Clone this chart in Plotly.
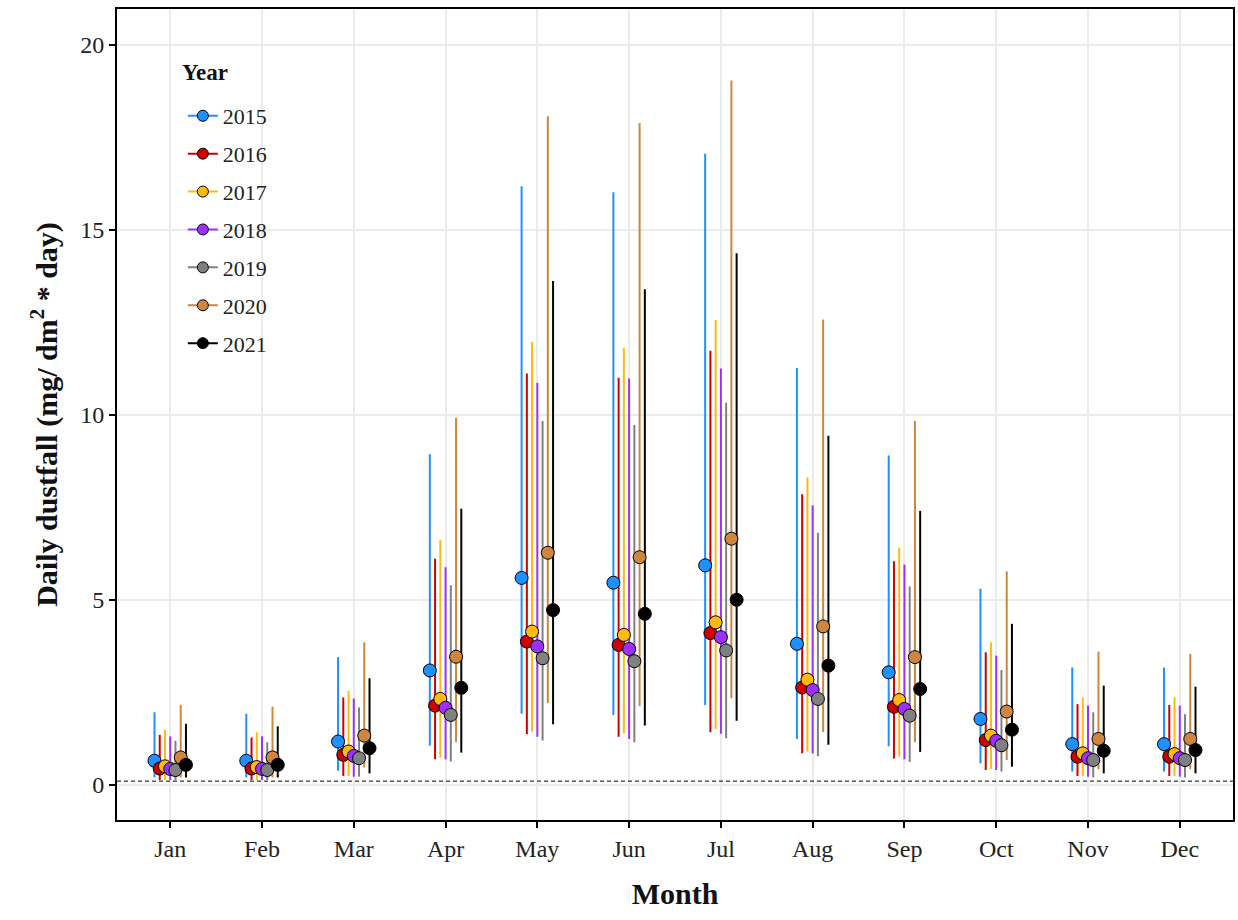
import plotly.graph_objects as go

# Monthly daily dustfall: mean with min–max range for each year
months = ["Jan", "Feb", "Mar", "Apr", "May", "Jun", "Jul", "Aug", "Sep", "Oct", "Nov", "Dec"]
years = ["2015", "2016", "2017", "2018", "2019", "2020", "2021"]
colors = ["#1E90FF", "#CD0000", "#FFB90F", "#9B30FF", "#808080", "#CD853F", "#000000"]

mean_2015 = [0.65, 0.65, 1.17, 3.09, 5.59, 5.46, 5.93, 3.81, 3.04, 1.78, 1.10, 1.10]
low_2015 = [0.20, 0.20, 0.38, 1.06, 1.92, 1.89, 2.16, 1.24, 1.04, 0.58, 0.36, 0.36]
high_2015 = [1.96, 1.92, 3.45, 8.93, 16.17, 16.01, 17.05, 11.26, 8.90, 5.30, 3.17, 3.17]

mean_2016 = [0.44, 0.44, 0.81, 2.14, 3.87, 3.78, 4.10, 2.63, 2.11, 1.21, 0.76, 0.76]
low_2016 = [0.13, 0.13, 0.24, 0.69, 1.37, 1.30, 1.42, 0.85, 0.71, 0.40, 0.24, 0.24]
high_2016 = [1.35, 1.28, 2.36, 6.11, 11.11, 11.00, 11.73, 7.85, 6.04, 3.58, 2.18, 2.16]

mean_2017 = [0.50, 0.48, 0.90, 2.32, 4.14, 4.05, 4.39, 2.84, 2.29, 1.33, 0.85, 0.83]
low_2017 = [0.13, 0.13, 0.24, 0.74, 1.44, 1.40, 1.51, 0.90, 0.76, 0.43, 0.24, 0.24]
high_2017 = [1.49, 1.42, 2.54, 6.62, 11.97, 11.81, 12.56, 8.30, 6.41, 3.85, 2.36, 2.36]

mean_2018 = [0.43, 0.43, 0.78, 2.08, 3.74, 3.67, 3.99, 2.56, 2.05, 1.19, 0.72, 0.72]
low_2018 = [0.13, 0.13, 0.22, 0.69, 1.30, 1.24, 1.38, 0.85, 0.69, 0.40, 0.22, 0.22]
high_2018 = [1.31, 1.31, 2.33, 5.88, 10.86, 10.98, 11.25, 7.55, 5.95, 3.49, 2.14, 2.14]

mean_2019 = [0.40, 0.40, 0.72, 1.89, 3.42, 3.34, 3.63, 2.32, 1.87, 1.07, 0.67, 0.67]
low_2019 = [0.13, 0.13, 0.22, 0.63, 1.20, 1.15, 1.26, 0.77, 0.62, 0.36, 0.20, 0.20]
high_2019 = [1.19, 1.15, 2.09, 5.39, 9.83, 9.72, 10.32, 6.81, 5.36, 3.10, 1.96, 1.91]

mean_2020 = [0.74, 0.74, 1.33, 3.46, 6.27, 6.15, 6.65, 4.28, 3.45, 1.98, 1.24, 1.24]
low_2020 = [0.20, 0.20, 0.47, 1.15, 2.21, 2.12, 2.34, 1.43, 1.15, 0.67, 0.42, 0.42]
high_2020 = [2.16, 2.11, 3.85, 9.92, 18.06, 17.88, 19.03, 12.57, 9.83, 5.77, 3.60, 3.54]

mean_2021 = [0.54, 0.54, 0.99, 2.62, 4.72, 4.62, 5.00, 3.22, 2.59, 1.49, 0.92, 0.94]
low_2021 = [0.20, 0.20, 0.31, 0.87, 1.64, 1.60, 1.73, 1.08, 0.89, 0.49, 0.31, 0.31]
high_2021 = [1.65, 1.58, 2.88, 7.46, 13.61, 13.39, 14.36, 9.43, 7.40, 4.35, 2.68, 2.65]

means = [mean_2015, mean_2016, mean_2017, mean_2018, mean_2019, mean_2020, mean_2021]
lows = [low_2015, low_2016, low_2017, low_2018, low_2019, low_2020, low_2021]
highs = [high_2015, high_2016, high_2017, high_2018, high_2019, high_2020, high_2021]

detection_limit = 0.1
y_ticks = [0, 5, 10, 15, 20]

FONT = "Liberation Serif"
dodge_width = 0.4
n_groups = len(years)
step = dodge_width / n_groups


def dodged_x(group):
    offset = (group - (n_groups - 1) / 2) * step
    return [m + 1 + offset for m in range(len(months))]


fig = go.Figure()

# Ranges first, so that every point sits on top of every line
for g, year in enumerate(years):
    xs, ys = [], []
    for x, lo, hi in zip(dodged_x(g), lows[g], highs[g]):
        xs += [x, x, None]
        ys += [lo, hi, None]
    fig.add_trace(go.Scatter(
        x=xs, y=ys, mode="lines",
        line=dict(color=colors[g], width=2),
        showlegend=False, hoverinfo="skip",
    ))

for g, year in enumerate(years):
    fig.add_trace(go.Scatter(
        x=dodged_x(g), y=means[g], mode="markers", name=year,
        marker=dict(color=colors[g], size=13, line=dict(color="black", width=1)),
        showlegend=False,
    ))

# Legend keys: a short line with a point, one per year
for g, year in enumerate(years):
    fig.add_trace(go.Scatter(
        x=[None], y=[None], mode="lines+markers", name=year,
        line=dict(color=colors[g], width=2),
        marker=dict(color=colors[g], size=11, line=dict(color="black", width=1)),
        legendgroup=year,
    ))

fig.add_shape(
    type="line", xref="paper", yref="y",
    x0=0, x1=1, y0=detection_limit, y1=detection_limit,
    line=dict(color="black", width=1, dash="4px,3px"),
)

# Legend heading
fig.add_annotation(
    text="<b>Year</b>", xref="paper", yref="paper",
    x=0.0564, y=0.922, xanchor="left", yanchor="middle",
    showarrow=False, font=dict(size=23, family=FONT, color="#111"),
)

fig.update_layout(
    width=1238, height=920,
    margin=dict(l=117, r=3, t=9, b=100),
    paper_bgcolor="white", plot_bgcolor="white",
    font=dict(family=FONT, color="#1a1a1a"),
    showlegend=True,
    legend=dict(
        font=dict(size=22, family=FONT, color="#222"),
        x=0.059, y=0.894, xanchor="left", yanchor="top",
        bgcolor="rgba(0,0,0,0)",
        traceorder="grouped", tracegroupgap=6.3,
        itemsizing="trace",
    ),
    xaxis=dict(
        range=[0.42, 12.58],
        tickmode="array",
        tickvals=list(range(1, len(months) + 1)),
        ticktext=months,
        ticks="outside", ticklen=6, tickwidth=1.5, tickcolor="black",
        tickfont=dict(size=24, family=FONT, color="#222"),
        showgrid=True, gridcolor="#EBEBEB", gridwidth=1.5,
        zeroline=False,
        showline=True, linecolor="black", linewidth=2, mirror=True,
        title=dict(text="<b>Month</b>", font=dict(size=30, family=FONT, color="#111"), standoff=22),
    ),
    yaxis=dict(
        range=[-0.95, 20.96],
        tickmode="array", tickvals=y_ticks,
        ticks="outside", ticklen=6, tickwidth=1.5, tickcolor="black",
        tickfont=dict(size=24, family=FONT, color="#222"),
        showgrid=True, gridcolor="#EBEBEB", gridwidth=1.5,
        zeroline=False,
        showline=True, linecolor="black", linewidth=2, mirror=True,
        title=dict(text="<b>Daily dustfall (mg/ dm<sup>2</sup> * day)</b>",
                   font=dict(size=30, family=FONT, color="#111"), standoff=14),
    ),
)

fig.write_html("out.html")
